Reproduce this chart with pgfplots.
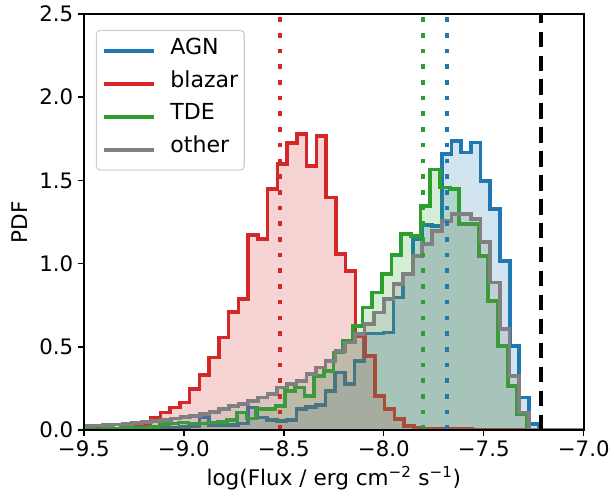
\documentclass[border=0pt]{standalone}
\usepackage{fontspec}
\setmainfont{DejaVu Sans}
\usepackage{pgfplots}
\usepackage{pgfplotstable}
\pgfplotsset{compat=1.18}

\definecolor{tabblue}{RGB}{31,119,180}
\definecolor{tabred}{RGB}{214,39,40}
\definecolor{tabgreen}{RGB}{44,160,44}
\definecolor{tabgray}{RGB}{128,128,128}

% left bin edge, density (first row opens the step at 0, last row closes it)
\pgfplotstableread{
x y
-9.504 0
-9.504 0.003
-9.456 0.003
-9.407 0.005
-9.359 0.005
-9.310 0.006
-9.262 0.008
-9.213 0.008
-9.165 0.010
-9.116 0.012
-9.068 0.015
-9.019 0.020
-8.971 0.026
-8.922 0.076
-8.874 0.030
-8.825 0.030
-8.777 0.030
-8.728 0.040
-8.680 0.136
-8.631 0.076
-8.583 0.060
-8.534 0.056
-8.486 0.060
-8.437 0.126
-8.389 0.140
-8.340 0.150
-8.292 0.236
-8.243 0.346
-8.195 0.276
-8.146 0.416
-8.098 0.580
-8.049 0.580
-8.001 0.586
-7.952 0.797
-7.904 0.940
-7.855 1.150
-7.807 1.230
-7.758 1.226
-7.710 1.657
-7.661 1.737
-7.613 1.667
-7.564 1.727
-7.516 1.497
-7.467 1.327
-7.419 1.016
-7.370 0.506
-7.322 0.196
-7.273 0.036
-7.225 0
}\agn

\pgfplotstableread{
x y
-9.507 0
-9.507 0.005
-9.458 0.005
-9.410 0.008
-9.361 0.010
-9.312 0.015
-9.263 0.020
-9.215 0.035
-9.166 0.076
-9.117 0.106
-9.068 0.136
-9.020 0.166
-8.971 0.246
-8.922 0.330
-8.873 0.436
-8.825 0.556
-8.776 0.710
-8.727 0.786
-8.678 1.170
-8.630 1.150
-8.581 1.447
-8.532 1.597
-8.483 1.723
-8.435 1.777
-8.386 1.587
-8.337 1.767
-8.288 1.397
-8.240 1.056
-8.191 0.956
-8.142 0.566
-8.093 0.446
-8.045 0.206
-7.996 0.126
-7.947 0.066
-7.898 0.026
-7.850 0.015
-7.801 0.010
-7.752 0.008
-7.703 0.006
-7.655 0.005
-7.606 0.005
-7.557 0.004
-7.508 0.004
-7.460 0.003
-7.411 0.003
-7.362 0.003
-7.313 0.002
-7.265 0.002
-7.216 0
}\blazar

\pgfplotstableread{
x y
-9.510 0
-9.510 0.003
-9.461 0.003
-9.413 0.005
-9.364 0.008
-9.316 0.012
-9.268 0.012
-9.219 0.015
-9.171 0.020
-9.122 0.035
-9.074 0.040
-9.026 0.045
-8.977 0.040
-8.929 0.040
-8.880 0.045
-8.832 0.050
-8.784 0.060
-8.735 0.106
-8.687 0.070
-8.638 0.126
-8.590 0.126
-8.542 0.146
-8.493 0.236
-8.445 0.256
-8.396 0.206
-8.348 0.326
-8.300 0.356
-8.251 0.466
-8.203 0.536
-8.154 0.626
-8.106 0.736
-8.058 0.826
-8.009 0.936
-7.961 1.050
-7.912 1.176
-7.864 1.166
-7.816 1.346
-7.767 1.566
-7.719 1.457
-7.670 1.447
-7.622 1.236
-7.574 1.236
-7.525 1.046
-7.477 0.776
-7.428 0.506
-7.380 0.266
-7.332 0.096
-7.283 0
}\tde

\pgfplotstableread{
x y
-9.549 0
-9.549 0.022
-9.501 0.025
-9.452 0.028
-9.404 0.030
-9.355 0.033
-9.307 0.038
-9.259 0.042
-9.210 0.048
-9.162 0.055
-9.113 0.062
-9.065 0.070
-9.017 0.078
-8.968 0.086
-8.920 0.096
-8.871 0.110
-8.823 0.126
-8.775 0.146
-8.726 0.156
-8.678 0.176
-8.629 0.196
-8.581 0.216
-8.533 0.256
-8.484 0.276
-8.436 0.296
-8.387 0.336
-8.339 0.376
-8.291 0.416
-8.242 0.476
-8.194 0.526
-8.145 0.576
-8.097 0.636
-8.049 0.706
-8.000 0.786
-7.952 0.876
-7.903 0.936
-7.855 1.046
-7.807 1.116
-7.758 1.196
-7.710 1.256
-7.661 1.296
-7.613 1.296
-7.565 1.266
-7.516 1.130
-7.468 0.886
-7.419 0.606
-7.371 0.326
-7.323 0.106
-7.274 0
-7.000 0
}\other

\begin{document}
\begin{tikzpicture}[font=\fontsize{16.2}{19}\selectfont]
\begin{axis}[
  scale only axis,
  width=375.75pt, height=312.75pt,
  xmin=-9.5, xmax=-7.0, ymin=0, ymax=2.5,
  xtick={-9.5,-9,-8.5,-8,-7.5,-7},
  xticklabels={−9.5,−9.0,−8.5,−8.0,−7.5,−7.0},
  ytick={0,0.5,1,1.5,2,2.5},
  yticklabels={0.0,0.5,1.0,1.5,2.0,2.5},
  tick label style={font=\fontsize{16}{19}\selectfont},
  tick align=outside, tick pos=left,
  major tick length=4.4pt,
  every tick/.style={black, line width=1.1pt},
  axis line style={line width=1.4pt},
  axis on top,
  xlabel={log(Flux / erg cm\textsuperscript{−2} s\textsuperscript{−1})},
  ylabel={PDF},
  ylabel shift=2pt,
  legend cell align=left,
  legend image code/.code={\draw[#1, line width=3pt] (0pt,0pt) -- (37.5pt,0pt);
    \path (48.25pt,0pt);},
  legend style={at={(0.024,0.962)}, anchor=north west,
    draw=black!20, line width=0.8pt, rounded corners=3pt,
    fill=white, fill opacity=0.8, text opacity=1,
    font=\fontsize{16.6}{20}\selectfont,
    nodes={inner sep=0pt, text height=11pt, text depth=6pt},
    inner xsep=4.5pt, inner ysep=6.9pt, row sep=7.75pt},
  hist/.style={const plot, line width=2.8pt, line join=miter, no marks},
  histfill/.style={const plot, draw=none, fill opacity=0.2, no marks, forget plot},
]
\addplot[histfill, fill=tabblue] table {\agn} \closedcycle;
\addplot[hist, tabblue] table {\agn};
\addlegendentry{AGN}
\addplot[histfill, fill=tabred] table {\blazar} \closedcycle;
\addplot[hist, tabred] table {\blazar};
\addlegendentry{blazar}
\addplot[histfill, fill=tabgreen] table {\tde} \closedcycle;
\addplot[hist, tabgreen] table {\tde};
\addlegendentry{TDE}
\addplot[histfill, fill=tabgray] table {\other} \closedcycle;
\addplot[hist, tabgray] table {\other};
\addlegendentry{other}

% medians and limit
\addplot[tabred, line width=3pt, dash pattern=on 3.5pt off 8.3pt, forget plot] coordinates {(-8.519,0) (-8.519,2.5)};
\addplot[tabgreen, line width=3pt, dash pattern=on 3.5pt off 8.3pt, forget plot] coordinates {(-7.802,0) (-7.802,2.5)};
\addplot[tabblue, line width=3pt, dash pattern=on 3.5pt off 8.3pt, forget plot] coordinates {(-7.682,0) (-7.682,2.5)};
\addplot[black, line width=3pt, dash pattern=on 11.5pt off 6.5pt, forget plot] coordinates {(-7.216,0) (-7.216,2.5)};
\end{axis}
% page margins as in the reference
\path (current axis.south west) ++(-63pt,-49.5pt);
\path (current axis.north east) ++(22pt,10.5pt);
\end{tikzpicture}
\end{document}
